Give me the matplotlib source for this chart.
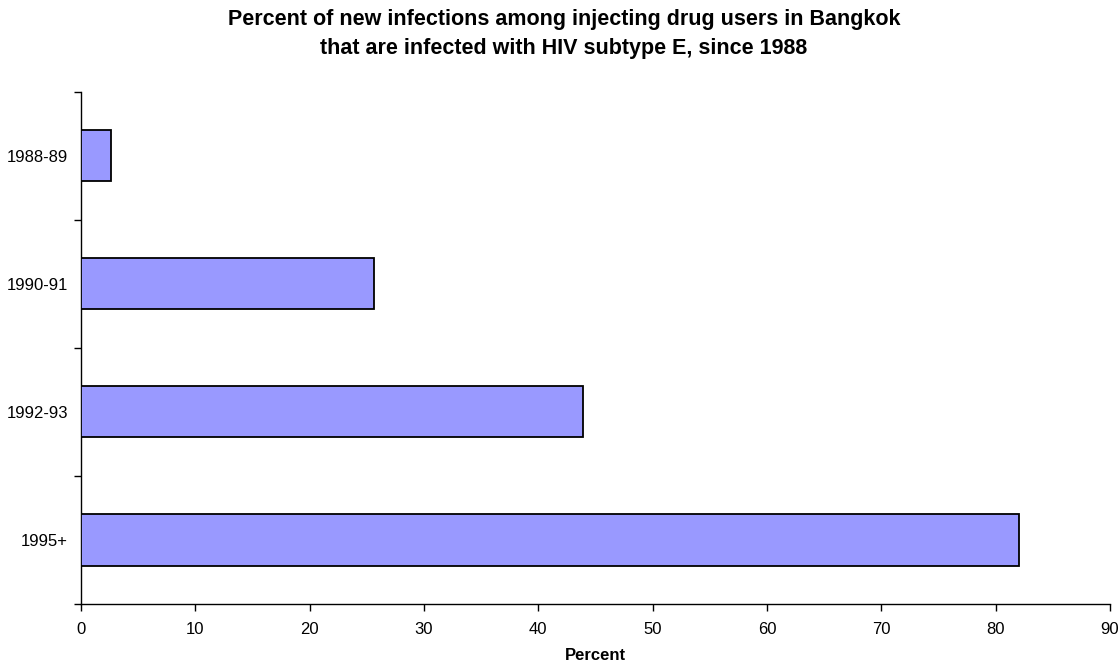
import matplotlib
matplotlib.use("Agg")
import matplotlib.pyplot as plt
import numpy as np

plt.rcParams['font.family'] = ['Liberation Sans', 'DejaVu Sans']

categories = ["1988-89", "1990-91", "1992-93", "1995+"]
values = [2.6, 25.6, 43.9, 82.0]
xticks = [0, 10, 20, 30, 40, 50, 60, 70, 80, 90]

title = ("Percent of new infections among injecting drug users in Bangkok\n"
         "that are infected with HIV subtype E, since 1988")

fig = plt.figure(figsize=(11.2, 6.64), dpi=100)
ax = fig.add_axes([81/1120, 1 - 604/664, (1110 - 81)/1120, (604 - 91.5)/664])

n = len(categories)
ypos = np.arange(n)[::-1]  # first category on top
ax.barh(ypos, values, height=0.4, color="#9999FF", edgecolor="black", linewidth=1.3, zorder=3)

ax.set_xlim(0, 90)
ax.set_ylim(-0.5, n - 0.5)
ax.set_xticks(xticks)
ax.set_xticklabels([str(t) for t in xticks], fontsize=12)

ax.set_yticks(ypos)
ax.set_yticklabels(categories, fontsize=12)
ax.set_yticks(np.arange(n + 1) - 0.5, minor=True)
ax.tick_params(axis='y', which='major', length=0, pad=9.5)
ax.tick_params(axis='y', which='minor', length=5, width=1, direction='out')
ax.tick_params(axis='x', which='major', length=5, width=1, direction='out', pad=8)

for s in ['top', 'right']:
    ax.spines[s].set_visible(False)
for s in ['left', 'bottom']:
    ax.spines[s].set_linewidth(1.0)

ax.set_xlabel("Percent", fontsize=12, fontweight='bold', labelpad=8)
fig.text(564/1120, 1 - 34/664, title, ha='center', va='center', fontsize=15.5,
         fontweight='bold', linespacing=1.55)

fig.savefig("out.png", dpi=100)
